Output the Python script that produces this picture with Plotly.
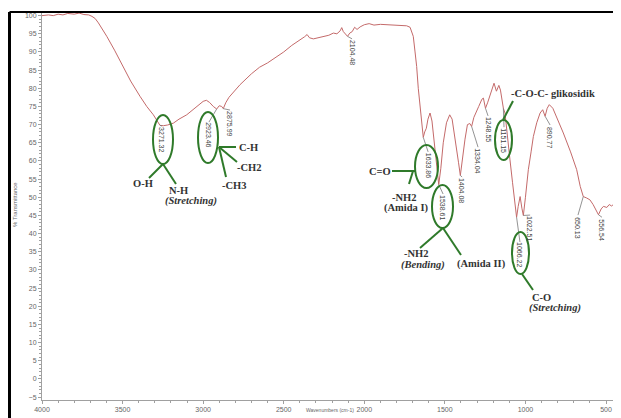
import plotly.graph_objects as go

# ---- spectrum data ----
wavenumber = [4000, 3960, 3930, 3900, 3870, 3840, 3800, 3770, 3740, 3710, 3690, 3670, 3650, 3620, 3598,
              3550, 3495, 3450, 3392, 3350, 3309, 3285, 3268, 3247, 3220, 3185, 3150, 3102, 3050, 3000,
              2980, 2960, 2937, 2916, 2900, 2885, 2875, 2860, 2840, 2800, 2771, 2700, 2650, 2600, 2564,
              2500, 2450, 2400, 2370, 2355, 2340, 2316, 2280, 2250, 2220, 2192, 2170, 2150, 2140, 2130,
              2115, 2104, 2090, 2075, 2060, 2045, 2026, 2000, 1970, 1940, 1900, 1850, 1800, 1760, 1737,
              1716, 1705, 1696, 1685, 1675, 1665, 1654, 1645, 1634, 1625, 1615, 1605, 1592, 1580, 1565,
              1550, 1538, 1525, 1510, 1490, 1470, 1455, 1435, 1415, 1404, 1390, 1375, 1360, 1345, 1334,
              1320, 1290, 1270, 1261, 1248, 1235, 1215, 1195, 1180, 1165, 1155, 1147, 1137, 1127, 1110,
              1096, 1080, 1066, 1055, 1045, 1033, 1022, 1013, 1000, 982, 965, 951, 930, 909, 893,
              878, 865, 852, 830, 800, 765, 720, 682, 660, 641, 620, 600, 580, 560, 547,
              530, 516, 495, 480, 465, 450, 433, 420, 407]
transmittance = [100.0, 100.2, 100.0, 100.4, 100.2, 100.6, 100.4, 100.7, 100.3, 100.2, 99.8, 99.2, 98.0, 96.0, 94.3,
                 90.5, 86.0, 82.0, 77.8, 75.0, 72.7, 70.8, 69.8, 69.7, 69.9, 70.4, 71.5, 72.7, 74.5, 76.4,
                 76.7, 76.1, 75.0, 74.3, 75.2, 75.0, 74.4, 76.0, 77.5, 79.5, 81.0, 84.0, 85.8, 87.0, 88.0,
                 90.0, 91.8, 93.2, 94.2, 94.8, 93.9, 93.6, 94.0, 94.3, 94.6, 95.2, 95.0, 95.8, 96.7, 95.6,
                 95.0, 94.3, 95.2, 95.6, 96.8, 96.2, 96.9, 97.5, 97.8, 97.4, 97.6, 97.5, 97.5, 97.3, 97.2,
                 96.8, 95.3, 94.3, 90.0, 86.0, 80.0, 75.0, 70.5, 66.5, 68.0, 69.0, 71.5, 73.2, 71.0, 64.0,
                 57.0, 53.5, 58.0, 65.0, 70.5, 72.7, 71.5, 66.0, 59.5, 56.0, 61.0, 66.0, 70.0, 70.3, 69.5,
                 72.0, 75.0, 77.0, 77.3, 74.5, 76.0, 79.0, 81.4, 79.2, 80.8, 79.5, 76.9, 74.5, 73.2, 67.0,
                 60.3, 54.0, 49.0, 44.5, 47.5, 50.2, 47.0, 45.0, 50.0, 57.6, 62.5, 66.7, 70.5, 73.2, 74.1,
                 72.3, 74.5, 75.5, 74.5, 71.5, 67.7, 62.5, 57.6, 53.0, 50.2, 49.8, 49.3, 48.0, 46.0, 45.2,
                 46.8, 47.5, 47.2, 48.0, 47.6, 48.2, 48.4, 49.0, 49.3]

# peak labels: text, dip position, label centre
peak_text = ["3271.32", "2923.46", "2875.99", "2104.48", "1633.86", "1538.61", "1404.08", "1334.04",
             "1248.55", "1151.15", "890.77", "1066.22", "1022.51", "650.13", "556.54"]
peak_dip_x = [3268, 2916, 2875, 2104, 1634, 1538, 1404, 1334, 1248, 1137, 878, 1055, 1013, 641, 547]
peak_dip_y = [69.8, 74.3, 74.4, 94.3, 66.5, 53.5, 56.0, 69.5, 74.5, 74.5, 72.3, 44.5, 45.0, 50.2, 45.2]
label_x = [3255, 2964, 2833, 2076, 1604, 1511, 1393, 1294, 1232, 1133, 847, 1034, 971, 674, 525]
label_y = [66.0, 67.1, 70.4, 90.0, 58.9, 47.3, 52.0, 60.2, 68.8, 65.7, 66.3, 34.1, 41.5, 41.5, 40.9]

# ---- layout geometry (screen pixels; page has an 8px body offset) ----
W, H = 621, 418
OFF = 8
SL, SR_EDGE, ST, SB_EDGE = 42, 621, 12, 400   # plot box in screenshot pixels
XR = [4000, 407]
YR = [-5.8, 101]
PW, PH = SR_EDGE - SL, SB_EDGE - ST


def px2x(px):
    return XR[0] + (px - SL) / PW * (XR[1] - XR[0])


def py2y(py):
    return YR[1] - (py - ST) / PH * (YR[1] - YR[0])


def pxp(px):
    return (px - SL) / PW


def pyp(py):
    return 1 - (py - ST) / PH


GREEN = "#2f7a2a"
fig = go.Figure()
fig.add_trace(go.Scatter(x=wavenumber, y=transmittance, mode="lines",
                         line=dict(color="#c46a6a", width=1), hoverinfo="skip", showlegend=False,
                         cliponaxis=False))

shapes = []
annotations = []
for t, dx, dy, lx, ly in zip(peak_text, peak_dip_x, peak_dip_y, label_x, label_y):
    top = ly + 3.6
    shapes.append(dict(type="line", xref="x", yref="y", x0=dx, y0=dy, x1=lx, y1=top,
                       line=dict(color="#777", width=0.8)))
    annotations.append(dict(x=lx, y=ly, xref="x", yref="y", text=t, showarrow=False, textangle=90,
                            font=dict(family="Liberation Sans", size=7, color="#444")))

# ellipses (pixel boxes)
ellipses = [(153, 115, 173, 164), (198, 112, 218, 163), (415, 145, 438, 188),
            (432, 185, 453, 228), (495, 120, 512, 160), (512, 232, 529, 274)]
for x0, y0, x1, y1 in ellipses:
    shapes.append(dict(type="circle", xref="x", yref="y", x0=px2x(x0), y0=py2y(y0), x1=px2x(x1), y1=py2y(y1),
                       line=dict(color=GREEN, width=2)))

# green leader lines (pixel)
glines = [(163, 164, 149, 178), (163, 164, 176, 184),
          (219, 147, 236, 147), (219, 147, 237, 162), (219, 147, 226, 177),
          (392, 171, 415, 171), (413, 171, 409, 184),
          (443, 228, 420, 248), (443, 228, 461, 255),
          (503, 120, 513, 101),
          (522, 274, 533, 290)]
for x0, y0, x1, y1 in glines:
    shapes.append(dict(type="line", xref="x", yref="y", x0=px2x(x0), y0=py2y(y0), x1=px2x(x1), y1=py2y(y1),
                       line=dict(color=GREEN, width=2)))

# group labels (pixel centres)
groups = [("O-H", 143, 183, False), ("N-H", 178, 190, False), ("(Stretching)", 191, 201, True),
          ("C-H", 248, 147, False), ("-CH2", 249, 167, False), ("-CH3", 234, 185, False),
          ("C=O", 380, 171, False), ("-NH2", 404, 197, False), ("(Amida I)", 406, 208, False),
          ("-NH2", 416, 253, False), ("(Bending)", 423, 265, True), ("(Amida II)", 481, 264, False),
          ("-C-O-C- glikosidik", 553, 93, False), ("C-O", 541, 297, False), ("(Stretching)", 555, 308, True)]
for t, px, py, it in groups:
    txt = "<b><i>%s</i></b>" % t if it else "<b>%s</b>" % t
    annotations.append(dict(x=px2x(px), y=py2y(py), xref="x", yref="y", text=txt, showarrow=False,
                            font=dict(family="Liberation Serif", size=10.5, color="#333")))

# axis titles
annotations.append(dict(x=pxp(10), y=pyp(205), xref="paper", yref="paper", text="% Transmittance",
                        showarrow=False, textangle=-90,
                        font=dict(family="Liberation Sans", size=6, color="#666")))
annotations.append(dict(x=pxp(330), y=pyp(415), xref="paper", yref="paper", text="Wavenumbers (cm-1)",
                        showarrow=False,
                        font=dict(family="Liberation Sans", size=5, color="#666")))

# image frame (left edge as close to the page edge as the page allows)
fx = pxp(OFF + 1.5)
shapes.append(dict(type="line", xref="paper", yref="paper", x0=fx, y0=1, x1=1.02, y1=1,
                   line=dict(color="black", width=2)))
shapes.append(dict(type="line", xref="paper", yref="paper", x0=fx, y0=1, x1=fx, y1=-0.1,
                   line=dict(color="black", width=3)))

axis_common = dict(showline=True, linecolor="#a0a0a0", linewidth=1, ticks="outside", ticklen=3,
                   tickcolor="#a0a0a0", showgrid=False, zeroline=False, automargin=False,
                   tickfont=dict(family="Liberation Sans", size=7, color="#666"))
fig.update_layout(
    width=W, height=H,
    margin=dict(l=SL - OFF, r=W - (SR_EDGE - OFF), t=ST - OFF, b=H - (SB_EDGE - OFF), autoexpand=False),
    plot_bgcolor="white", paper_bgcolor="white",
    xaxis=dict(range=XR, dtick=500, tick0=0,
               minor=dict(dtick=100, ticks="outside", ticklen=2, tickcolor="#a0a0a0"),
               **axis_common),
    yaxis=dict(range=YR, dtick=5, tick0=0,
               minor=dict(dtick=1, ticks="outside", ticklen=2, tickcolor="#a0a0a0"),
               **axis_common),
    shapes=shapes, annotations=annotations,
)
fig.write_html("out.html")
